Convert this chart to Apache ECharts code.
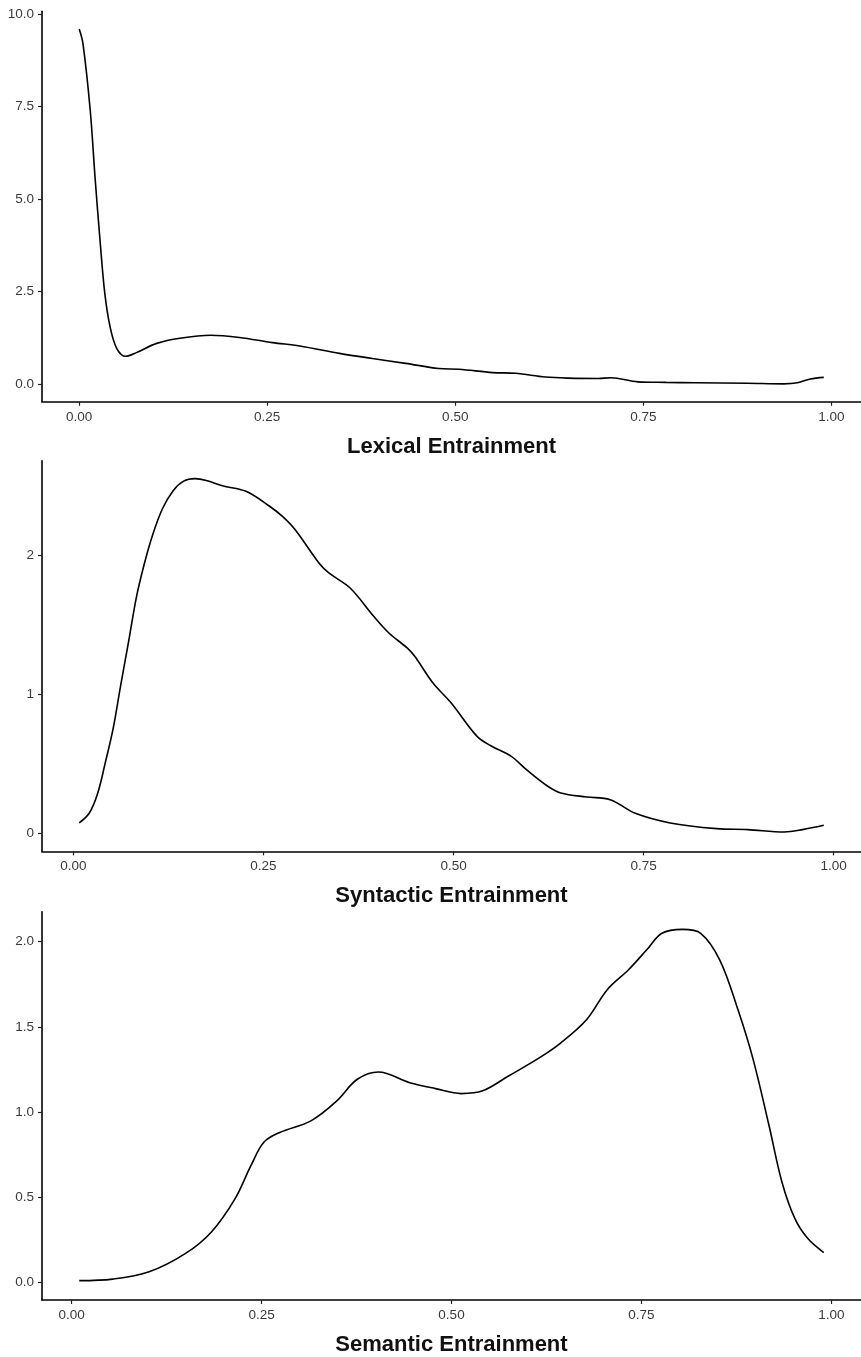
<!DOCTYPE html>
<html>
<head>
<meta charset="utf-8">
<title>Entrainment densities</title>
<script src="https://cdn.jsdelivr.net/npm/echarts@6/dist/echarts.min.js"></script>
<style>
  html, body { margin: 0; padding: 0; background: #ffffff; }
  #chart { width: 861px; height: 1357px; }
</style>
</head>
<body>
<div id="chart"></div>
<script>
// Density estimates of the three entrainment scores
const lexicalX = [0.000, 0.005, 0.0146, 0.021, 0.028, 0.034, 0.041, 0.050, 0.062, 0.076, 0.103, 0.134, 0.175, 0.213, 0.257, 0.293, 0.346, 0.390, 0.434, 0.478, 0.505, 0.550, 0.580, 0.620, 0.650, 0.690, 0.707, 0.743, 0.780, 0.820, 0.889, 0.937, 0.955, 0.972, 0.990];
const lexicalY = [9.60, 9.20, 7.41, 5.60, 3.80, 2.45, 1.55, 0.96, 0.75, 0.85, 1.10, 1.24, 1.32, 1.26, 1.12, 1.03, 0.83, 0.69, 0.56, 0.42, 0.40, 0.31, 0.29, 0.19, 0.16, 0.15, 0.17, 0.06, 0.045, 0.035, 0.02, 0.005, 0.035, 0.135, 0.18];

const syntacticX = [0.0077, 0.021, 0.032, 0.042, 0.052, 0.062, 0.073, 0.083, 0.093, 0.104, 0.117, 0.131, 0.145, 0.160, 0.175, 0.196, 0.227, 0.258, 0.275, 0.292, 0.323, 0.336, 0.364, 0.395, 0.415, 0.439, 0.449, 0.473, 0.497, 0.531, 0.549, 0.576, 0.596, 0.624, 0.641, 0.675, 0.706, 0.740, 0.785, 0.846, 0.887, 0.935, 0.959, 0.987];
const syntacticY = [0.077, 0.148, 0.29, 0.51, 0.746, 1.057, 1.39, 1.70, 1.93, 2.14, 2.33, 2.46, 2.53, 2.548, 2.535, 2.497, 2.457, 2.35, 2.277, 2.18, 1.943, 1.871, 1.763, 1.56, 1.44, 1.333, 1.273, 1.081, 0.938, 0.698, 0.631, 0.555, 0.459, 0.34, 0.292, 0.263, 0.244, 0.144, 0.077, 0.036, 0.029, 0.012, 0.029, 0.06];

const semanticX = [0.010, 0.054, 0.102, 0.150, 0.184, 0.215, 0.236, 0.253, 0.274, 0.315, 0.349, 0.376, 0.404, 0.445, 0.479, 0.513, 0.541, 0.575, 0.616, 0.644, 0.678, 0.705, 0.733, 0.757, 0.777, 0.804, 0.828, 0.853, 0.877, 0.897, 0.918, 0.935, 0.952, 0.969, 0.990];
const semanticY = [0.01, 0.019, 0.062, 0.17, 0.296, 0.49, 0.685, 0.822, 0.88, 0.948, 1.065, 1.192, 1.235, 1.172, 1.137, 1.108, 1.124, 1.211, 1.319, 1.406, 1.543, 1.718, 1.835, 1.952, 2.049, 2.072, 2.049, 1.893, 1.601, 1.309, 0.919, 0.588, 0.374, 0.257, 0.175];

// Tick positions
const xTicks = [0, 0.25, 0.5, 0.75, 1.0];
const lexicalTicks = [0, 2.5, 5.0, 7.5, 10.0];
const syntacticTicks = [0, 1, 2];
const semanticTicks = [0, 0.5, 1.0, 1.5, 2.0];

const panelNames = ['Lexical Entrainment', 'Syntactic Entrainment', 'Semantic Entrainment'];

const FONT = '"Liberation Sans", Arial, Helvetica, sans-serif';

const zip = (xs, ys) => xs.map((x, i) => [x, ys[i]]);

// ggplot-style 5% expansion of the data range
function expanded(values) {
  const lo = Math.min(...values), hi = Math.max(...values);
  const pad = (hi - lo) * 0.05;
  return [lo - pad, hi + pad];
}

const panels = [
  { xs: lexicalX, ys: lexicalY, ticks: lexicalTicks, yDigits: 1, top: 11.3, xPerUnit: 755 },
  { xs: syntacticX, ys: syntacticY, ticks: syntacticTicks, yDigits: 0, top: 460.9, xPerUnit: 762.7 },
  { xs: semanticX, ys: semanticY, ticks: semanticTicks, yDigits: 1, top: 911.7, xPerUnit: 762 }
];

const grids = [], xAxes = [], yAxes = [], series = [];

panels.forEach((p, i) => {
  const [xMin, xMax] = expanded(p.xs);
  const [yMin, yMax] = expanded(p.ys.concat([0]));
  grids.push({
    left: 42,
    top: p.top,
    width: (xMax - xMin) * p.xPerUnit,
    height: 390.5,
    containLabel: false
  });
  const axisLine = { show: true, onZero: false, lineStyle: { color: '#000000', width: 1.6 } };
  const axisTick = { show: true, length: 4, lineStyle: { color: '#222222', width: 1.2 } };
  xAxes.push({
    type: 'value',
    gridIndex: i,
    min: xMin,
    max: xMax,
    name: panelNames[i],
    nameLocation: 'middle',
    nameGap: 34,
    nameTextStyle: { fontFamily: FONT, fontSize: 22, fontWeight: 'bold', color: '#111111' },
    axisLine: axisLine,
    axisTick: Object.assign({ customValues: xTicks }, axisTick),
    axisLabel: {
      customValues: xTicks,
      formatter: v => v.toFixed(2),
      fontFamily: FONT,
      fontSize: 13.5,
      color: '#3a3a3a',
      margin: 8
    },
    splitLine: { show: false }
  });
  yAxes.push({
    type: 'value',
    gridIndex: i,
    min: yMin,
    max: yMax,
    axisLine: axisLine,
    axisTick: Object.assign({ customValues: p.ticks }, axisTick),
    axisLabel: {
      customValues: p.ticks,
      formatter: v => v.toFixed(p.yDigits),
      fontFamily: FONT,
      fontSize: 13.5,
      color: '#3a3a3a',
      margin: 8
    },
    splitLine: { show: false }
  });
  series.push({
    type: 'line',
    xAxisIndex: i,
    yAxisIndex: i,
    data: zip(p.xs, p.ys),
    smooth: 0.35,
    showSymbol: false,
    silent: true,
    lineStyle: { color: '#000000', width: 1.6 }
  });
});

const chart = echarts.init(document.getElementById('chart'), null, { renderer: 'canvas' });
chart.setOption({
  animation: false,
  backgroundColor: '#ffffff',
  grid: grids,
  xAxis: xAxes,
  yAxis: yAxes,
  series: series
});
</script>
</body>
</html>
